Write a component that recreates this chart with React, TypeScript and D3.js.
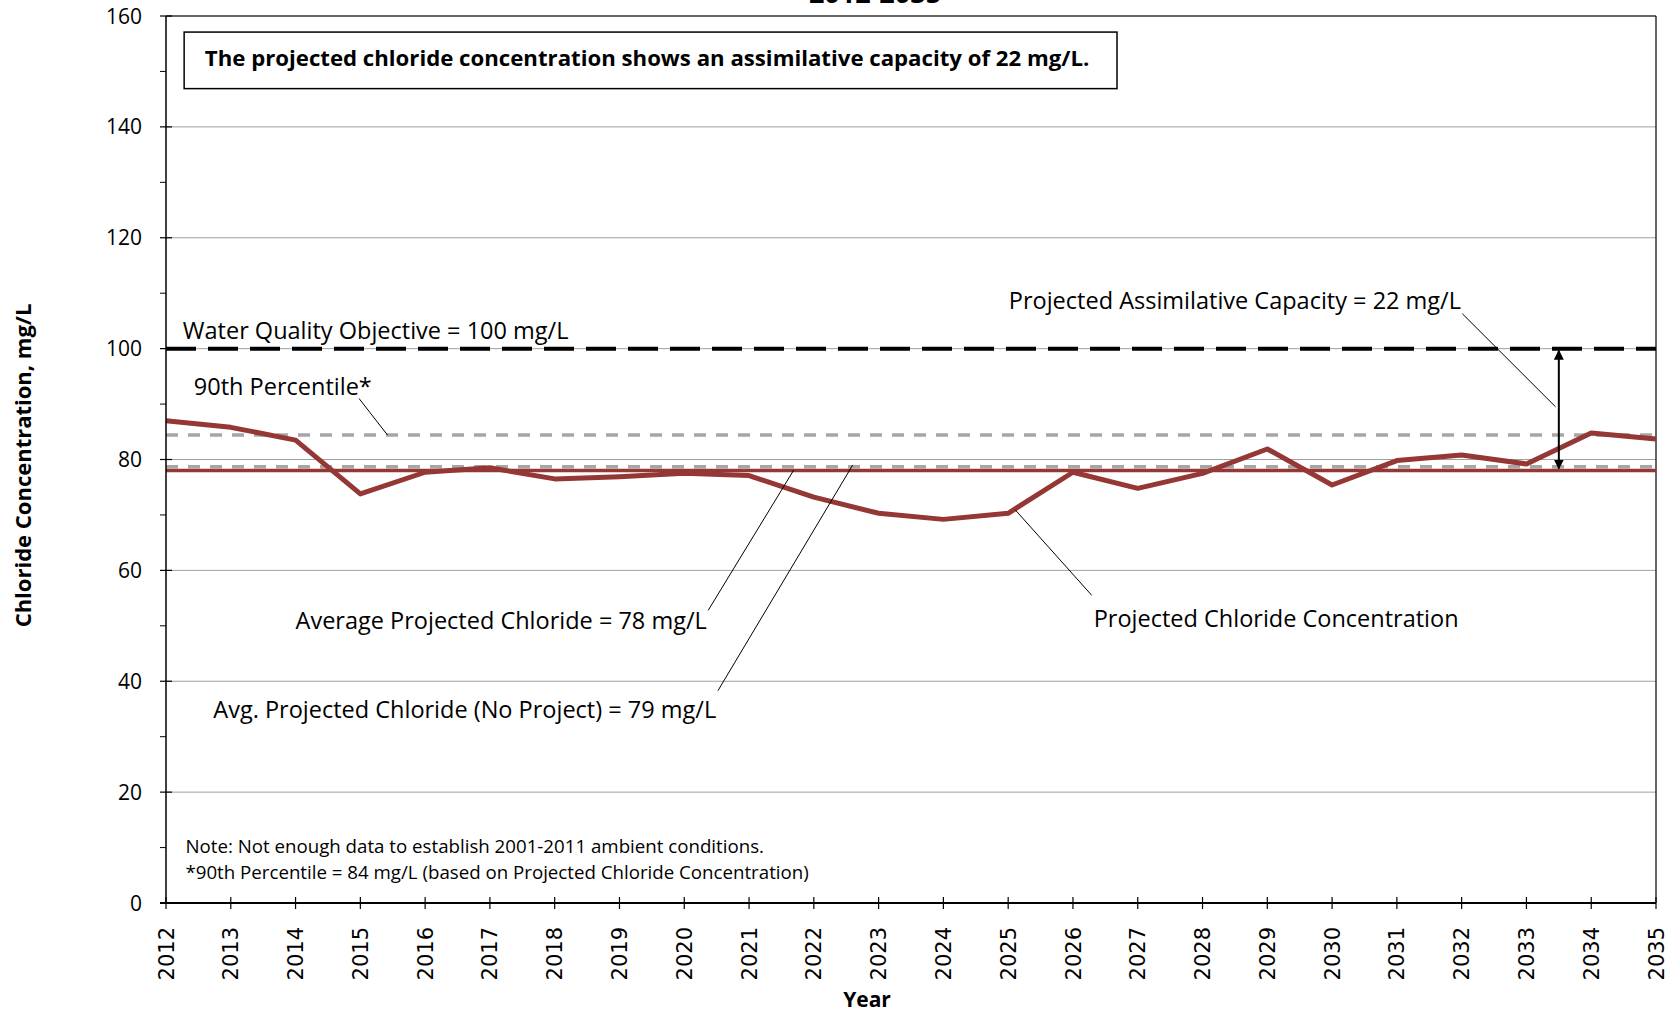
import React from "react";
import * as d3 from "d3";

const years = [2012,2013,2014,2015,2016,2017,2018,2019,2020,2021,2022,2023,2024,2025,2026,2027,2028,2029,2030,2031,2032,2033,2034,2035];
const projected = [87.0,85.8,83.5,73.8,77.7,78.5,76.5,76.9,77.5,77.1,73.2,70.3,69.2,70.3,77.7,74.8,77.5,81.9,75.4,79.8,80.8,79.2,84.8,83.7];
const yTicks = [0,20,40,60,80,100,120,140,160];
const yMinorTicks = [10,30,50,70,90,110,130,150];
const wqo = 100;
const p90 = 84.4;
const avgNoProject = 78.7;
const avgProjected = 78;
const arrowYear = 2033.5;

const W = 1680, H = 1014;
const M = { left: 166, right: 24, top: 16, bottom: 111 };

const FONT = "'Open Sans', 'Noto Sans', sans-serif";

export default function App() {
  const x = d3.scaleLinear().domain([2012, 2035]).range([M.left, W - M.right]);
  const y = d3.scaleLinear().domain([0, 160]).range([H - M.bottom, M.top]);
  const line = d3.line<number>().x((_, i) => x(years[i])).y((d) => y(d));
  const x0 = x(2012), x1 = x(2035), y0 = y(0), yTop = y(160);

  const hline = (v: number, stroke: string, w: number, dash?: string) => (
    <line x1={x0} x2={x1} y1={y(v)} y2={y(v)} stroke={stroke} strokeWidth={w} strokeDasharray={dash} />
  );
  const leader = (ax: number, av: number, bx: number, bv: number, key: string) => (
    <line key={key} x1={x(ax)} y1={y(av)} x2={x(bx)} y2={y(bv)} stroke="#000" strokeWidth={1} />
  );

  return (
    <svg width={W} height={H} style={{ position: "absolute", left: 0, top: 0, background: "#fff" }}>
      <defs>
        <marker id="ah" viewBox="0 0 10 10" refX="9" refY="5" markerWidth="5" markerHeight="6" orient="auto-start-reverse">
          <path d="M0,0 L10,5 L0,10 z" fill="#000" />
        </marker>
      </defs>
      <text x={875} y={3} textAnchor="middle" fontFamily={FONT} fontWeight="bold" fontSize={27}>2012-2035</text>
      {/* gridlines */}
      {yTicks.filter((t) => t > 0).map((t) => (
        <line key={"g" + t} x1={x0} x2={x1} y1={y(t)} y2={y(t)} stroke="#A0A0A0" strokeWidth={1} />
      ))}
      {/* frame top/right */}
      <line x1={x0} x2={x1} y1={yTop} y2={yTop} stroke="#000" strokeWidth={1} />
      <line x1={x1} x2={x1} y1={yTop} y2={y0} stroke="#000" strokeWidth={1.2} />

      {hline(p90, "#A6A6A6", 3.5, "12 10")}
      {hline(avgNoProject, "#A6A6A6", 3.5, "12 10")}
      {hline(avgProjected, "#953735", 3.5)}
      {hline(wqo, "#000", 4, "30 12")}
      <path d={line(projected) || ""} fill="none" stroke="#953735" strokeWidth={5} strokeLinejoin="round" />

      {/* arrow */}
      <line x1={x(arrowYear)} x2={x(arrowYear)} y1={y(avgProjected) - 2} y2={y(wqo) + 2} stroke="#000" strokeWidth={2}
        markerStart="url(#ah)" markerEnd="url(#ah)" />

      {/* axes */}
      <line x1={x0} x2={x0} y1={yTop} y2={y0} stroke="#000" strokeWidth={1.5} />
      <line x1={x0 - 6} x2={x1} y1={y0} y2={y0} stroke="#000" strokeWidth={2} />
      {yTicks.map((t) => (
        <g key={"yt" + t}>
          <line x1={x0 - 6} x2={x0 + 6} y1={y(t)} y2={y(t)} stroke="#000" strokeWidth={1.2} />
          <text x={x0 - 24} y={y(t)} dy="0.36em" textAnchor="end" fontFamily={FONT} fontSize={21}>{t}</text>
        </g>
      ))}
      {yMinorTicks.map((t) => (
        <line key={"ym" + t} x1={x0 - 6} x2={x0} y1={y(t)} y2={y(t)} stroke="#000" strokeWidth={1} />
      ))}
      {years.map((yr) => (
        <g key={"xt" + yr}>
          <line x1={x(yr)} x2={x(yr)} y1={y0 - 6} y2={y0 + 6} stroke="#000" strokeWidth={1.2} />
          <text transform={`translate(${x(yr)},${y0 + 24}) rotate(-90)`} dy="0.36em" textAnchor="end"
            fontFamily="'DejaVu Sans', sans-serif" fontSize={21}>{yr}</text>
        </g>
      ))}
      <text x={867} y={1007} textAnchor="middle" fontFamily={FONT} fontWeight="bold" fontSize={21}>Year</text>
      <text transform={`translate(31,${(yTop + y0) / 2 + 6}) rotate(-90)`} textAnchor="middle" fontFamily={FONT}
        fontWeight="bold" fontSize={22}>Chloride Concentration, mg/L</text>

      {/* info box */}
      <rect x={x(2012.28)} y={y(157.1)} width={x(2026.68) - x(2012.28)} height={y(146.9) - y(157.1)} fill="#fff" stroke="#000" strokeWidth={1.5} />
      <text x={x(2012.6)} y={y(150.9)} fontFamily={FONT} fontWeight="bold" fontSize={22.2}>
        The projected chloride concentration shows an assimilative capacity of 22 mg/L.
      </text>

      {/* annotations */}
      <g fontFamily={FONT} fontSize={23.5}>
        <text x={x(2012.26)} y={y(101.8)}>Water Quality Objective = 100 mg/L</text>
        <text x={x(2012.43)} y={y(91.6)}>90th Percentile*</text>
        <text x={x(2025.01)} y={y(107.2)}>Projected Assimilative Capacity = 22 mg/L</text>
        <text x={x(2014.0)} y={y(49.5)}>Average Projected Chloride = 78 mg/L</text>
        <text x={x(2012.73)} y={y(33.4)}>Avg. Projected Chloride (No Project) = 79 mg/L</text>
        <text x={x(2026.32)} y={y(49.7)}>Projected Chloride Concentration</text>
      </g>
      {leader(2014.98, 91.0, 2015.42, 84.4, "l1")}
      {leader(2032.01, 106.3, 2033.45, 89.5, "l2")}
      {leader(2020.37, 52.8, 2021.69, 78.1, "l3")}
      {leader(2020.52, 38.3, 2022.6, 79.0, "l4")}
      {leader(2026.29, 55.5, 2025.11, 70.9, "l5")}

      <g fontFamily={FONT} fontSize={18.7}>
        <text x={x(2012.3)} y={y(9.1)}>Note: Not enough data to establish 2001-2011 ambient conditions.</text>
        <text x={x(2012.3)} y={y(4.4)}>*90th Percentile = 84 mg/L (based on Projected Chloride Concentration)</text>
      </g>
    </svg>
  );
}
